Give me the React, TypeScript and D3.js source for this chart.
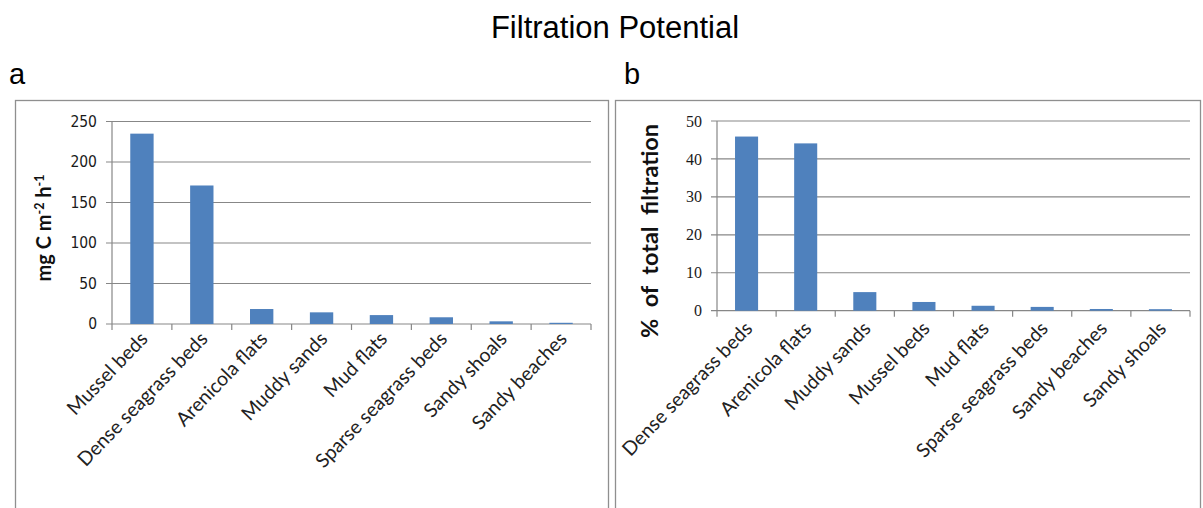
import React from "react";
import * as d3 from "d3";

const catsA = ["Mussel beds", "Dense seagrass beds", "Arenicola flats", "Muddy sands", "Mud flats", "Sparse seagrass beds", "Sandy shoals", "Sandy beaches"];
const valsA = [235, 171, 18.5, 14.4, 11, 8.3, 3.3, 1.5];
const ticksA = [0, 50, 100, 150, 200, 250];

const catsB = ["Dense seagrass beds", "Arenicola flats", "Muddy sands", "Mussel beds", "Mud flats", "Sparse seagrass beds", "Sandy beaches", "Sandy shoals"];
const valsB = [45.9, 44.1, 4.9, 2.3, 1.3, 1.0, 0.45, 0.4];
const ticksB = [0, 10, 20, 30, 40, 50];

const BAR = "#4F81BD";
const GRID = "#878787";
const FRAME = "#8f8f8f";

type PanelProps = {
  cats: string[];
  vals: number[];
  ticks: number[];
  max: number;
  x0: number;
  x1: number;
  y0: number;
  yTop: number;
  tickFont: string;
  tickSize: number;
  labelDx: number;
  labelDy: number;
};

function Panel(p: PanelProps) {
  const x = d3.scaleBand<string>().domain(p.cats).range([p.x0, p.x1]).paddingInner(0.61).paddingOuter(0.305);
  const y = d3.scaleLinear().domain([0, p.max]).range([p.y0, p.yTop]);
  const step = x.step();
  return (
    <g>
      {p.ticks.map((t) => (
        <g key={t}>
          <line x1={p.x0 - 6} x2={p.x1} y1={y(t)} y2={y(t)} stroke={GRID} strokeWidth={1.2} />
          <text x={p.x0 - 15} y={y(t)} dy="0.35em" textAnchor="end" fontFamily={p.tickFont} fontSize={p.tickSize} fill="#1a1a1a">
            {t}
          </text>
        </g>
      ))}
      <line x1={p.x0} x2={p.x0} y1={p.yTop} y2={p.y0} stroke={GRID} strokeWidth={1.2} />
      {d3.range(p.cats.length + 1).map((i) => (
        <line key={i} x1={p.x0 + i * step} x2={p.x0 + i * step} y1={p.y0} y2={p.y0 + 6} stroke={GRID} strokeWidth={1.2} />
      ))}
      {p.cats.map((c, i) => (
        <rect key={c} x={x(c)} y={y(p.vals[i])} width={x.bandwidth()} height={p.y0 - y(p.vals[i])} fill={BAR} />
      ))}
      {p.cats.map((c) => {
        const cx = (x(c) as number) + x.bandwidth() / 2 + p.labelDx;
        const cy = p.y0 + p.labelDy;
        return (
          <text key={c} x={cx} y={cy} textAnchor="end" fontFamily="Lato, 'Open Sans', sans-serif" fontSize={19.5} fill="#222" transform={`rotate(-46 ${cx} ${cy})`}>
            {c}
          </text>
        );
      })}
    </g>
  );
}

export default function App() {
  return (
    <svg width={1203} height={508} style={{ position: "absolute", left: 0, top: 0, background: "#fff" }}>
      <rect x={0} y={0} width={1203} height={508} fill="#fff" />
      <text x={615} y={38} textAnchor="middle" fontFamily="'Liberation Sans', Arial, sans-serif" fontSize={31} fill="#000">
        Filtration Potential
      </text>
      <text x={9} y={84} fontFamily="'Liberation Sans', Arial, sans-serif" fontSize={29} fill="#000">a</text>
      <text x={624} y={84} fontFamily="'Liberation Sans', Arial, sans-serif" fontSize={29} fill="#000">b</text>

      <rect x={15.5} y={100.5} width={593} height={420} fill="none" stroke={FRAME} strokeWidth={1.3} />
      <rect x={615.5} y={100.5} width={585} height={420} fill="none" stroke={FRAME} strokeWidth={1.3} />

      <Panel cats={catsA} vals={valsA} ticks={ticksA} max={250} x0={112} x1={591} y0={324} yTop={121.5} tickFont="'DejaVu Sans Condensed', 'DejaVu Sans', sans-serif" tickSize={15.5} labelDx={7} labelDy={16} />
      <Panel cats={catsB} vals={valsB} ticks={ticksB} max={50} x0={717} x1={1190} y0={310.7} yTop={121} tickFont="'Liberation Serif', serif" tickSize={16} labelDx={7} labelDy={19} />

      <text transform="translate(51 228) rotate(-90)" textAnchor="middle" fontFamily="Lato, 'Open Sans', sans-serif" fontWeight="bold" fontSize={20} fill="#111">
        mg C m<tspan dy={-7} fontSize={12.5}>-2</tspan><tspan dy={7}> h</tspan><tspan dy={-7} fontSize={12.5}>-1</tspan>
      </text>
      <text transform="translate(658 231) rotate(-90)" textAnchor="middle" fontFamily="Lato, 'Open Sans', sans-serif" fontWeight="bold" fontSize={23.5} fill="#111" style={{ whiteSpace: "pre" }}>
        {"%  of  total  filtration"}
      </text>
    </svg>
  );
}
